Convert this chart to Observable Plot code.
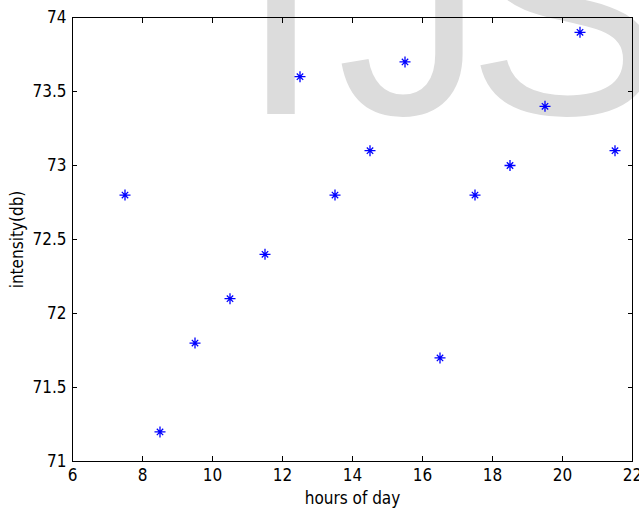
<!DOCTYPE html>
<html><head><meta charset="utf-8">
<script src="https://cdn.jsdelivr.net/npm/d3@7"></script>
<script src="https://cdn.jsdelivr.net/npm/@observablehq/plot@0.6"></script>
<style>
body{margin:0;background:#fff;}
#wrap{position:relative;width:639px;height:510px;overflow:hidden;}
#wm{position:absolute;left:0;top:0;}
#wm text{font-family:Arial, "Liberation Sans", Helvetica, sans-serif;font-size:295px;fill:#dcdcdc;}
#chart{position:absolute;left:0;top:0;}
</style>
</head><body>
<div id="wrap">
<svg id="wm" width="639" height="510"><text y="114"><tspan x="240">I</tspan><tspan x="337">J</tspan><tspan x="467">S</tspan></text></svg>
<div id="chart"></div>
</div>
<script>
const hours = [7.5, 8.5, 9.5, 10.5, 11.5, 12.5, 13.5, 14.5, 15.5, 16.5, 17.5, 18.5, 19.5, 20.5, 21.5];
const intensity = [72.8, 71.2, 71.8, 72.1, 72.4, 73.6, 72.8, 73.1, 73.7, 71.7, 72.8, 73.0, 73.4, 73.9, 73.1];
const xTicks = [6, 8, 10, 12, 14, 16, 18, 20, 22];
const yTicks = [71, 71.5, 72, 72.5, 73, 73.5, 74];
const xLabel = "hours of day";
const yLabel = "intensity(db)";

const data = hours.map((h, i) => ({h, v: intensity[i]}));

const matlabStar = {
  draw(ctx) {
    const r = 5.5, d = 3.2;
    ctx.moveTo(-r, 0); ctx.lineTo(r, 0);
    ctx.moveTo(0, -r); ctx.lineTo(0, r);
    ctx.moveTo(-d, -d); ctx.lineTo(d, d);
    ctx.moveTo(-d, d); ctx.lineTo(d, -d);
  }
};

const font = "'Liberation Sans Narrow', 'DejaVu Sans Condensed', Arial, sans-serif";

const chart = Plot.plot({
  width: 639,
  height: 510,
  marginLeft: 72,
  marginRight: 7,
  marginTop: 17,
  marginBottom: 49,
  style: {background: "transparent", fontFamily: font, fontSize: "17px", color: "black"},
  x: {domain: [6, 22]},
  y: {domain: [71, 74]},
  marks: [
    Plot.dot(data, {x: "h", y: "v", symbol: matlabStar, stroke: "#0000ff", strokeWidth: 1.3, fill: "none"}),
    Plot.axisX(xTicks, {anchor: "bottom", tickSize: -5, fill: "none", label: null}),
    Plot.axisX(xTicks, {anchor: "top", tickSize: -5, fill: "none", label: null}),
    Plot.axisY(yTicks, {anchor: "left", tickSize: -5, fill: "none", label: null}),
    Plot.axisY(yTicks, {anchor: "right", tickSize: -5, fill: "none", label: null}),
    Plot.axisX(xTicks, {anchor: "bottom", tickSize: 0, tickPadding: 7, stroke: "none", label: xLabel, labelAnchor: "center", labelArrow: "none", labelOffset: 42, tickFormat: d => String(d)}),
    Plot.axisY(yTicks, {anchor: "left", tickSize: 0, tickPadding: 6, stroke: "none", label: yLabel, labelAnchor: "center", labelArrow: "none", labelOffset: 62, tickFormat: d => String(d)}),
    Plot.frame({stroke: "black", strokeWidth: 1})
  ]
});
document.getElementById("chart").appendChild(chart);
</script>
</body></html>
